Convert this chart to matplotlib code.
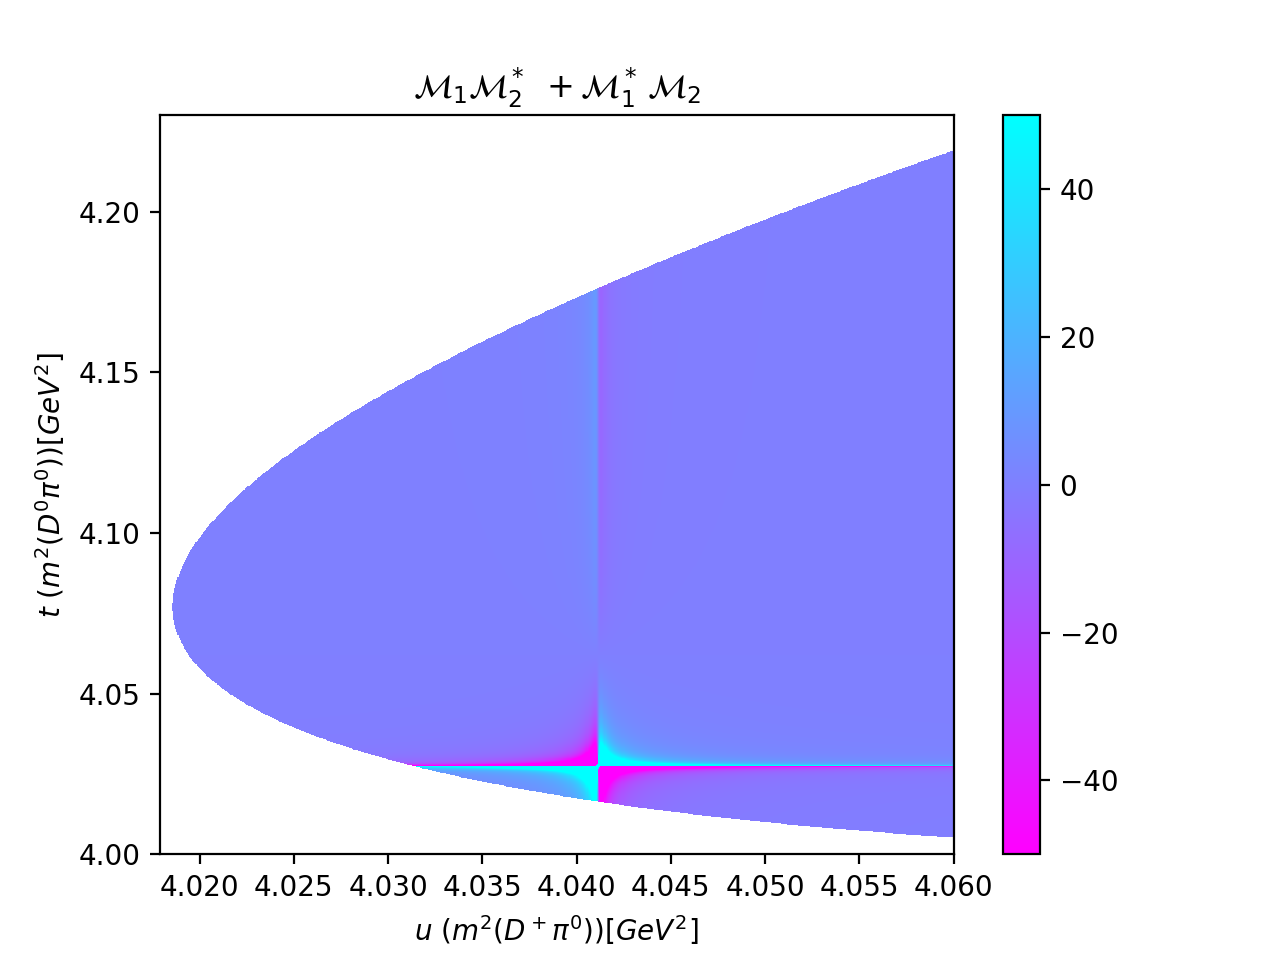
import numpy as np
import matplotlib
matplotlib.use('Agg')
import matplotlib.pyplot as plt

# masses / widths in GeV
m_parent = 4.01593
m_Dp = 1.86966
m_D0 = 1.86484
m_pi0 = 0.134977
m_Dstp = 2.01026   # D*+ -> D+ pi0  (u channel)
m_Dst0 = 2.00685   # D*0 -> D0 pi0  (t channel)
gam_Dstp = 83.4e-6
gam_Dst0 = 55.3e-6

# angular factor changes sign along the D*+ band here
t_flip = 4.062
norm = 0.0045

u_lim = [4.0179, 4.060]
t_lim = [4.000, 4.230]
n_u, n_t = 750, 1400
c_lim = [-50, 50]
cbar_ticks = [-40, -20, 0, 20, 40]


def dalitz_limits(u):
    su = np.sqrt(u)
    Ec = (u - m_Dp**2 + m_pi0**2) / (2 * su)
    Eb = (m_parent**2 - u - m_D0**2) / (2 * su)
    pc = np.sqrt(np.clip(Ec**2 - m_pi0**2, 0, None))
    pb = np.sqrt(np.clip(Eb**2 - m_D0**2, 0, None))
    tmax = (Eb + Ec)**2 - (pb - pc)**2
    tmin = (Eb + Ec)**2 - (pb + pc)**2
    ok = Ec > m_pi0
    return tmin, tmax, ok


u = np.linspace(u_lim[0], u_lim[1], n_u)
t = np.linspace(t_lim[0], t_lim[1], n_t)
uu, tt = np.meshgrid(u, t)

a = uu - m_Dstp**2
b = tt - m_Dst0**2
e1 = m_Dstp * gam_Dstp
e2 = m_Dst0 * gam_Dst0
# 2 Re(M1 M2*)
inter = norm * (t_flip - tt) * (a * b + e1 * e2) / ((a**2 + e1**2) * (b**2 + e2**2))

tmin, tmax, ok = dalitz_limits(uu)
inside = ok & (tt >= tmin) & (tt <= tmax)
inter = np.ma.masked_where(~inside, inter)

fig = plt.figure(figsize=(6.4, 4.8), dpi=200)
plt.pcolormesh(u, t, inter, cmap='cool_r', vmin=c_lim[0], vmax=c_lim[1], shading='nearest')
plt.colorbar(ticks=cbar_ticks)
plt.xlim(u_lim)
plt.ylim(t_lim)
plt.xlabel(r'$u\ (m^2(D^+\pi^0))[GeV^2]$')
plt.ylabel(r'$t\ (m^2(D^0\pi^0))[GeV^2]$')
plt.title(r'$\mathcal{M}_1\mathcal{M}_2^*\ + \mathcal{M}_1^*\,\mathcal{M}_2$')
plt.savefig('out.png')
